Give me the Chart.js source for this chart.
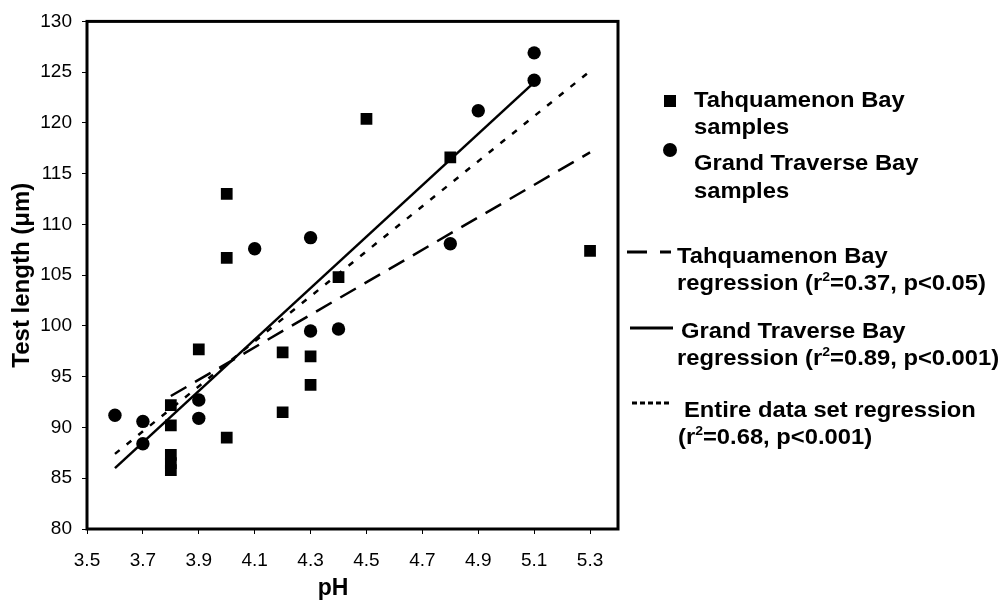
<!DOCTYPE html>
<html>
<head>
<meta charset="utf-8">
<script src="https://cdn.jsdelivr.net/npm/chart.js@4"></script>
<style>
  body { margin: 0; background: #fff; }
  #wrap { position: relative; width: 1007px; height: 602px; }
  #legend { position: absolute; left: 0; top: 0; width: 1007px; height: 602px; pointer-events: none;
    font-family: "Liberation Sans", Arial, sans-serif; font-weight: bold; font-size: 22px; color: #000; }
  #legend .ln { position: absolute; white-space: nowrap; line-height: 27px; height: 27px;
    transform: scaleX(1.08); transform-origin: 0 50%; }
  #legend sup { font-size: 13px; vertical-align: 9px; line-height: 0; }
  #legend svg { position: absolute; overflow: visible; }
  #legend .xt { position: absolute; left: 303px; width: 60px; text-align: center; top: 573px;
    line-height: 28px; font-size: 23px; }
</style>
</head>
<body>
<div id="wrap">
  <canvas id="phChart"></canvas>
  <div id="legend">
    <svg style="left:664px;top:95px" width="12" height="12"><rect x="0" y="0" width="12" height="12" fill="#000"/></svg>
    <div class="ln" style="left:694px;top:86px">Tahquamenon Bay</div>
    <div class="ln" style="left:694px;top:113px">samples</div>

    <svg style="left:663px;top:143px" width="14" height="14"><circle cx="7" cy="7" r="7" fill="#000"/></svg>
    <div class="ln" style="left:694px;top:149px">Grand Traverse Bay</div>
    <div class="ln" style="left:694px;top:177px">samples</div>

    <svg style="left:627px;top:250px" width="44" height="4"><line x1="0" y1="2" x2="44" y2="2" stroke="#000" stroke-width="3" stroke-dasharray="20 13"/></svg>
    <div class="ln" style="left:677px;top:242px">Tahquamenon Bay</div>
    <div class="ln" style="left:677px;top:269px">regression (r<sup>2</sup>=0.37, p&lt;0.05)</div>

    <svg style="left:630px;top:326px" width="43" height="4"><line x1="0" y1="2" x2="43" y2="2" stroke="#000" stroke-width="3"/></svg>
    <div class="ln" style="left:681px;top:317px">Grand Traverse Bay</div>
    <div class="ln" style="left:677px;top:344px">regression (r<sup>2</sup>=0.89, p&lt;0.001)</div>

    <svg style="left:632px;top:401px" width="38" height="4"><line x1="0" y1="2" x2="38" y2="2" stroke="#000" stroke-width="3" stroke-dasharray="5 3"/></svg>
    <div class="ln" style="left:684px;top:396px">Entire data set regression</div>
    <div class="ln" style="left:678px;top:423px">(r<sup>2</sup>=0.68, p&lt;0.001)</div>

    <div class="xt">pH</div>
  </div>
</div>
<script>
// Tahquamenon Bay samples (pH, test length in µm)
const tbX = [4.0, 4.0, 3.9, 3.8, 3.8, 3.8, 3.8, 3.8, 4.0, 4.2, 4.2, 4.3, 4.3, 4.4, 4.5, 4.8, 5.3];
const tbY = [113.0, 106.7, 97.7, 92.2, 90.2, 87.3, 86.5, 85.8, 89.0, 97.4, 91.5, 97.0, 94.2, 104.8, 120.4, 116.6, 107.4];

// Grand Traverse Bay samples
const gtbX = [3.6, 3.7, 3.7, 3.9, 3.9, 4.1, 4.3, 4.3, 4.4, 4.8, 4.9, 5.1, 5.1];
const gtbY = [91.2, 90.6, 88.4, 92.7, 90.9, 107.6, 108.7, 99.5, 99.7, 108.1, 121.2, 124.2, 126.9];

// regression line end points
const tbFitX = [3.8, 5.3];
const tbFitY = [93.1, 117.1];
const gtbFitX = [3.6, 5.1];
const gtbFitY = [86.0, 124.0];
const allFitX = [3.6, 5.3];
const allFitY = [87.4, 125.1];

// axis ticks
const xTicks = [3.5, 3.7, 3.9, 4.1, 4.3, 4.5, 4.7, 4.9, 5.1, 5.3];
const yTicks = [80, 85, 90, 95, 100, 105, 110, 115, 120, 125, 130];

const pts = (xs, ys) => xs.map((x, i) => ({ x, y: ys[i] }));

// box around the plot area
const framePlugin = {
  id: "frame",
  afterDatasetsDraw(chart) {
    const a = chart.chartArea;
    const ctx = chart.ctx;
    ctx.save();
    ctx.strokeStyle = "#000";
    ctx.lineWidth = 3;
    ctx.strokeRect(a.left, a.top, a.right - a.left, a.bottom - a.top);
    ctx.restore();
  },
};

const fontFamily = "'Liberation Sans', Arial, sans-serif";

new Chart(document.getElementById("phChart"), {
  type: "scatter",
  data: {
    datasets: [
      {
        label: "Tahquamenon Bay samples",
        data: pts(tbX, tbY),
        pointStyle: "rect",
        pointRadius: 8.3,
        backgroundColor: "#000",
        borderColor: "#000",
        borderWidth: 0,
      },
      {
        label: "Grand Traverse Bay samples",
        data: pts(gtbX, gtbY),
        pointStyle: "circle",
        pointRadius: 6.7,
        backgroundColor: "#000",
        borderColor: "#000",
        borderWidth: 0,
      },
      {
        type: "line",
        label: "Tahquamenon Bay regression",
        data: pts(tbFitX, tbFitY),
        borderColor: "#000",
        borderWidth: 2.5,
        borderDash: [18, 10],
        pointRadius: 0,
        fill: false,
      },
      {
        type: "line",
        label: "Grand Traverse Bay regression",
        data: pts(gtbFitX, gtbFitY),
        borderColor: "#000",
        borderWidth: 2.5,
        pointRadius: 0,
        fill: false,
      },
      {
        type: "line",
        label: "Entire data set regression",
        data: pts(allFitX, allFitY),
        borderColor: "#000",
        borderWidth: 2.5,
        borderDash: [6, 9],
        pointRadius: 0,
        fill: false,
      },
    ],
  },
  options: {
    responsive: true,
    maintainAspectRatio: false,
    animation: false,
    layout: { padding: { left: 0, right: 389, top: 17, bottom: 0 } },
    plugins: { legend: { display: false }, tooltip: { enabled: false } },
    scales: {
      x: {
        type: "linear",
        min: 3.5,
        max: 5.4,
        afterBuildTicks: (scale) => { scale.ticks = xTicks.map((v) => ({ value: v })); },
        afterFit: (scale) => { scale.height = 73; },
        grid: { drawOnChartArea: false, drawTicks: true, tickLength: 5, color: "#000", lineWidth: 1 },
        border: { display: false },
        ticks: {
          color: "#000",
          padding: 15,
          maxRotation: 0,
          autoSkip: false,
          font: { family: fontFamily, size: 19 },
          callback: (v) => Number(v).toFixed(1),
        },
        title: { display: false },
      },
      y: {
        type: "linear",
        min: 80,
        max: 130,
        afterBuildTicks: (scale) => { scale.ticks = yTicks.map((v) => ({ value: v })); },
        afterFit: (scale) => { scale.width = 87; },
        grid: { drawOnChartArea: false, drawTicks: true, tickLength: 5, color: "#000", lineWidth: 1 },
        border: { display: false },
        ticks: {
          color: "#000",
          padding: 10,
          autoSkip: false,
          font: { family: fontFamily, size: 19 },
        },
        title: {
          display: true,
          text: "Test length (μm)",
          color: "#000",
          padding: { top: 8, bottom: 0 },
          font: { family: fontFamily, size: 24, weight: "bold" },
        },
      },
    },
  },
  plugins: [framePlugin],
});
</script>
</body>
</html>
